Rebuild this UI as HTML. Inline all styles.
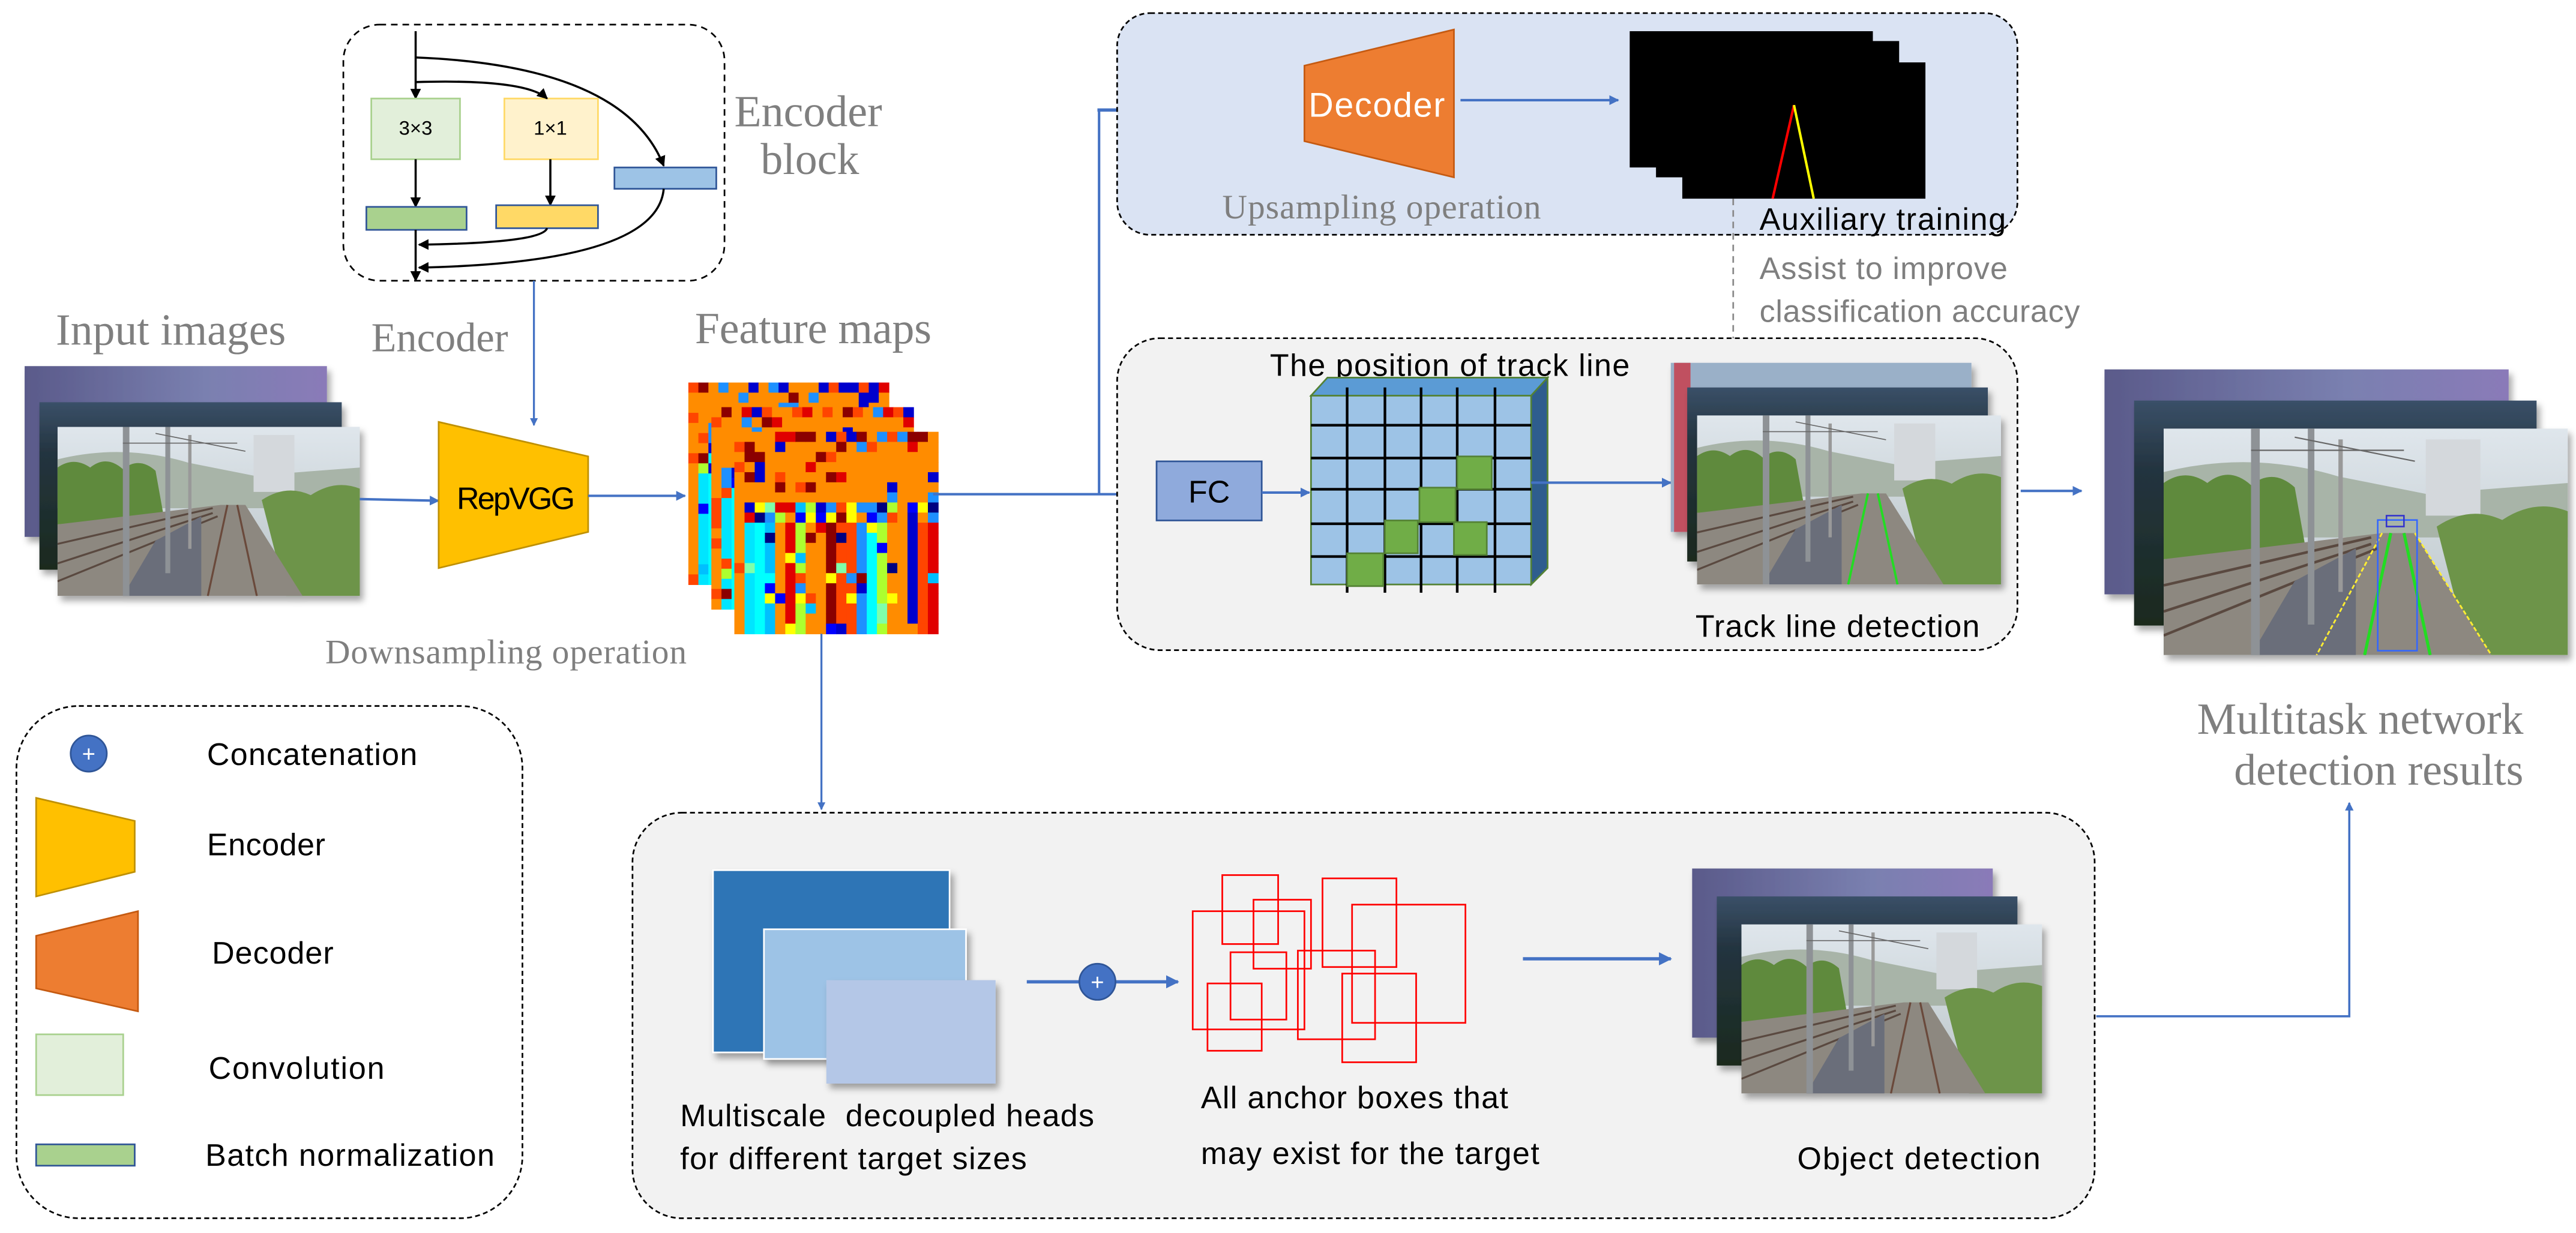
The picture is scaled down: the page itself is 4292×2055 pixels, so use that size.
<!DOCTYPE html>
<html><head><meta charset="utf-8"><style>
html,body{margin:0;padding:0;background:#fff;}
svg{display:block;}
.serif{font-family:"Liberation Serif",serif;fill:#7f7f7f;}
.sans{font-family:"Liberation Sans",sans-serif;fill:#000;}
</style></head><body>
<svg width="4292" height="2055" viewBox="0 0 1568 751" preserveAspectRatio="none" xmlns="http://www.w3.org/2000/svg">
<defs>
<marker id="ab" viewBox="0 0 10 10" refX="9" refY="5" markerWidth="4" markerHeight="4" orient="auto"><path d="M0,0L10,5L0,10z" fill="#4472c4"/></marker>
<marker id="ak" viewBox="0 0 10 10" refX="9" refY="5" markerWidth="5" markerHeight="5" orient="auto"><path d="M0,0L10,5L0,10z" fill="#000"/></marker>
<marker id="ag" viewBox="0 0 10 10" refX="9" refY="5" markerWidth="5" markerHeight="5" orient="auto"><path d="M0,0L10,5L0,10z" fill="#777"/></marker>
<linearGradient id="sky" x1="0" y1="0" x2="0" y2="1"><stop offset="0" stop-color="#dfe6ec"/><stop offset="1" stop-color="#b9c3c6"/></linearGradient>
<linearGradient id="purp" x1="0" y1="0" x2="1" y2="0"><stop offset="0" stop-color="#5a5a8a"/><stop offset="0.6" stop-color="#7a80b0"/><stop offset="1" stop-color="#8a7ab8"/></linearGradient>
<linearGradient id="dark" x1="0" y1="0" x2="0" y2="1"><stop offset="0" stop-color="#3a5068"/><stop offset="0.3" stop-color="#243440"/><stop offset="1" stop-color="#1a2a1e"/></linearGradient>
<filter id="sh" x="-10%" y="-10%" width="130%" height="130%"><feDropShadow dx="2" dy="3" stdDeviation="2" flood-opacity="0.35"/></filter>
<symbol id="photo" viewBox="0 0 185 104" preserveAspectRatio="none">
<rect width="185" height="104" fill="url(#sky)"/>
<path d="M0,20 Q40,10 80,22 L120,30 L185,25 L185,50 L0,50z" fill="#a8b4a8"/>
<rect x="120" y="5" width="25" height="35" fill="#d4d8dc"/>
<path d="M0,25 Q10,18 20,25 Q30,17 40,26 Q50,18 60,27 L65,55 L0,60z" fill="#5f8a3c"/>
<path d="M125,45 Q140,35 155,42 Q170,32 185,38 L185,104 L140,104z" fill="#6d9448"/>
<path d="M0,60 L100,48 L115,48 L150,104 L0,104z" fill="#8d8880"/>
<path d="M0,72 L95,50 M0,84 L95,53 M0,95 L98,55" stroke="#5a4a40" stroke-width="1.2"/>
<path d="M104,48 L92,104 M110,48 L122,104" stroke="#6a4a3a" stroke-width="1.2"/>
<path d="M40,104 L60,70 L88,55 L88,104z" fill="#6a6e7a"/>
<rect x="40" y="0" width="4" height="104" fill="#8e9296"/>
<rect x="66" y="0" width="3" height="90" fill="#8e9296"/>
<rect x="80" y="5" width="2" height="70" fill="#999"/>
<path d="M40,10 L110,10 M60,4 L115,15" stroke="#666" stroke-width="0.6"/>
</symbol>
<symbol id="photoL" viewBox="0 0 185 104" preserveAspectRatio="none">
<use href="#photo" width="185" height="104"/>
<path d="M104,48 L92,104 M110,48 L122,104" stroke="#22dd22" stroke-width="1.4"/>
</symbol>
<symbol id="photoR" viewBox="0 0 185 104" preserveAspectRatio="none">
<use href="#photo" width="185" height="104"/>
<path d="M104,48 L92,104 M110,48 L122,104" stroke="#22dd22" stroke-width="1.4"/>
<path d="M100,48 L70,104 M115,48 L150,104" stroke="#ffee33" stroke-width="0.8" stroke-dasharray="2,1"/>
<rect x="98" y="42" width="18" height="60" fill="none" stroke="#3366ff" stroke-width="0.7"/>
<rect x="102" y="40" width="8" height="5" fill="none" stroke="#3333cc" stroke-width="0.7"/>
</symbol>
</defs>

<!-- Encoder block -->
<rect x="209" y="15" width="232" height="156" rx="22" fill="none" stroke="#000" stroke-width="1" stroke-dasharray="4,3"/>
<text class="serif" x="447" y="77" font-size="27">Encoder</text>
<text class="serif" x="463" y="106" font-size="27">block</text>
<line x1="253" y1="19" x2="253" y2="60" stroke="#000" stroke-width="1.3" marker-end="url(#ak)"/>
<rect x="226" y="60" width="54" height="37" fill="#e2efda" stroke="#a9d18e" stroke-width="1"/>
<text class="sans" x="253" y="82" font-size="12" text-anchor="middle">3×3</text>
<rect x="307" y="60" width="57" height="37" fill="#fff2cc" stroke="#ffd966" stroke-width="1"/>
<text class="sans" x="335" y="82" font-size="12" text-anchor="middle">1×1</text>
<rect x="374" y="102" width="62" height="13" fill="#9dc3e6" stroke="#2f5597" stroke-width="1"/>
<path d="M253,35 Q380,40 404,101" fill="none" stroke="#000" stroke-width="1.3" marker-end="url(#ak)"/>
<path d="M253,50 Q320,48 333,60" fill="none" stroke="#000" stroke-width="1.3" marker-end="url(#ak)"/>
<line x1="253" y1="97" x2="253" y2="126" stroke="#000" stroke-width="1.3" marker-end="url(#ak)"/>
<line x1="335" y1="97" x2="335" y2="125" stroke="#000" stroke-width="1.3" marker-end="url(#ak)"/>
<rect x="223" y="126" width="61" height="14" fill="#a9d18e" stroke="#2f5597" stroke-width="1"/>
<rect x="302" y="125" width="62" height="14" fill="#ffd966" stroke="#2f5597" stroke-width="1"/>
<line x1="253" y1="140" x2="253" y2="171" stroke="#000" stroke-width="1.3" marker-end="url(#ak)"/>
<path d="M333,139 Q330,148 255,149" fill="none" stroke="#000" stroke-width="1.3" marker-end="url(#ak)"/>
<path d="M404,115 Q400,160 255,163" fill="none" stroke="#000" stroke-width="1.3" marker-end="url(#ak)"/>
<line x1="325" y1="171" x2="325" y2="259" stroke="#4472c4" stroke-width="1.2" marker-end="url(#ab)"/>

<!-- Input -->
<text class="serif" x="34" y="210" font-size="27" textLength="140">Input images</text>
<text class="serif" x="226" y="214" font-size="25">Encoder</text>
<text class="serif" x="423" y="209" font-size="27" textLength="144">Feature maps</text>
<rect x="15" y="223" width="184" height="104" fill="url(#purp)" filter="url(#sh)"/>
<rect x="24" y="245" width="184" height="102" fill="url(#dark)" filter="url(#sh)"/>
<use href="#photo" x="35" y="260" width="184" height="103" filter="url(#sh)"/>
<line x1="219" y1="304" x2="267" y2="305" stroke="#4472c4" stroke-width="1.5" marker-end="url(#ab)"/>
<path d="M267,257 L358,278 L358,324 L267,346z" fill="#ffc000" stroke="#bf9000" stroke-width="1"/>
<text class="sans" x="314" y="310" font-size="19" text-anchor="middle" textLength="72">RepVGG</text>
<line x1="358" y1="302" x2="417" y2="302" stroke="#4472c4" stroke-width="1.5" marker-end="url(#ab)"/>
<text class="serif" x="198" y="404" font-size="21" textLength="220">Downsampling operation</text>

<!-- Feature maps -->
<g id="fm1"></g><g id="fm2"></g><g id="fm3"></g>

<!-- connectors -->
<line x1="568" y1="301" x2="703" y2="301" stroke="#4472c4" stroke-width="1.5"/>
<line x1="669" y1="301" x2="669" y2="67" stroke="#4472c4" stroke-width="1.5"/>
<line x1="668" y1="67" x2="793" y2="67" stroke="#4472c4" stroke-width="2" marker-end="url(#ab)"/>
<line x1="500" y1="386" x2="500" y2="493" stroke="#4472c4" stroke-width="1.2" marker-end="url(#ab)"/>

<!-- Upper blue box -->
<rect x="680" y="8" width="548" height="135" rx="20" fill="#dae3f3" stroke="#000" stroke-width="1" stroke-dasharray="3,2"/>
<path d="M794,40 L885,18 L885,108 L794,86z" fill="#ed7d31" stroke="#c55a11" stroke-width="1"/>
<text x="838" y="71" font-size="21" text-anchor="middle" font-family="Liberation Sans,sans-serif" fill="#fff" textLength="83">Decoder</text>
<line x1="889" y1="61" x2="985" y2="61" stroke="#4472c4" stroke-width="1.5" marker-end="url(#ab)"/>
<rect x="992" y="19" width="148" height="83" fill="#000"/>
<rect x="1008" y="25" width="148" height="83" fill="#000"/>
<rect x="1024" y="38" width="148" height="83" fill="#000"/>
<line x1="1092" y1="64" x2="1079" y2="121" stroke="#f00" stroke-width="1.5"/>
<line x1="1092" y1="64" x2="1104" y2="121" stroke="#ff0" stroke-width="1.5"/>
<text class="serif" x="744" y="133" font-size="21" textLength="194">Upsampling operation</text>
<text class="sans" x="1071" y="140" font-size="19" textLength="150">Auxiliary training</text>
<line x1="1055" y1="121" x2="1055" y2="220" stroke="#888" stroke-width="1" stroke-dasharray="4,3" marker-end="url(#ag)"/>
<text x="1071" y="170" font-size="19" font-family="Liberation Sans,sans-serif" fill="#7f7f7f" textLength="151">Assist to improve</text>
<text x="1071" y="196" font-size="19" font-family="Liberation Sans,sans-serif" fill="#7f7f7f" textLength="195">classification accuracy</text>

<!-- Lower gray box -->
<rect x="680" y="206" width="548" height="190" rx="26" fill="#f2f2f2" stroke="#000" stroke-width="1" stroke-dasharray="3,2"/>
<text class="sans" x="773" y="229" font-size="19" textLength="219">The position of track line</text>
<rect x="704" y="281" width="64" height="36" fill="#8faadc" stroke="#2f5597" stroke-width="1"/>
<text class="sans" x="736" y="306" font-size="19" text-anchor="middle">FC</text>
<line x1="768" y1="300" x2="797" y2="300" stroke="#4472c4" stroke-width="1.5" marker-end="url(#ab)"/>
<path d="M798,241 L808,230 L942,230 L932,241z" fill="#5b9bd5" stroke="#548235" stroke-width="1"/>
<path d="M932,241 L942,230 L942,346 L932,356z" fill="#2e5d8e" stroke="#548235" stroke-width="1"/>
<rect x="798" y="241" width="134" height="115" fill="#9dc3e6" stroke="#548235" stroke-width="1"/>
<g stroke="#000" stroke-width="1.6">
<line x1="798" y1="259" x2="932" y2="259"/><line x1="798" y1="279" x2="932" y2="279"/><line x1="798" y1="298" x2="932" y2="298"/><line x1="798" y1="319" x2="932" y2="319"/><line x1="798" y1="339" x2="932" y2="339"/>
<line x1="820" y1="236" x2="820" y2="361"/><line x1="843" y1="236" x2="843" y2="361"/><line x1="865" y1="236" x2="865" y2="361"/><line x1="887" y1="236" x2="887" y2="361"/><line x1="910" y1="236" x2="910" y2="361"/>
</g>
<g fill="#70ad47" stroke="#548235" stroke-width="1">
<rect x="887" y="278" width="21" height="20"/><rect x="864" y="297" width="22" height="21"/><rect x="843" y="317" width="20" height="20"/><rect x="885" y="318" width="20" height="20"/><rect x="820" y="337" width="22" height="20"/>
</g>
<line x1="932" y1="294" x2="1017" y2="294" stroke="#4472c4" stroke-width="1.5" marker-end="url(#ab)"/>
<rect x="1017" y="221" width="183" height="103" fill="#9ab0c8" filter="url(#sh)"/>
<rect x="1019" y="221" width="10" height="103" fill="#c05060"/>
<rect x="1027" y="236" width="183" height="106" fill="url(#dark)" filter="url(#sh)"/>
<use href="#photoL" x="1033" y="253" width="185" height="103" filter="url(#sh)"/>
<text class="sans" x="1032" y="388" font-size="19" textLength="173">Track line detection</text>
<line x1="1230" y1="299" x2="1267" y2="299" stroke="#4472c4" stroke-width="1.5" marker-end="url(#ab)"/>

<!-- Results -->
<rect x="1281" y="225" width="246" height="137" fill="url(#purp)" filter="url(#sh)"/>
<rect x="1299" y="244" width="245" height="137" fill="url(#dark)" filter="url(#sh)"/>
<use href="#photoR" x="1317" y="261" width="246" height="138" filter="url(#sh)"/>
<text class="serif" x="1536" y="447" font-size="27" text-anchor="end">Multitask network</text>
<text class="serif" x="1536" y="478" font-size="27" text-anchor="end">detection results</text>
<polyline points="1276,619 1430,619 1430,489" fill="none" stroke="#4472c4" stroke-width="1.3" marker-end="url(#ab)"/>

<!-- Legend -->
<rect x="10" y="430" width="308" height="312" rx="38" fill="none" stroke="#000" stroke-width="1" stroke-dasharray="3,2"/>
<circle cx="54" cy="459" r="11" fill="#4472c4" stroke="#2f5597"/>
<text x="54" y="464" font-size="14" text-anchor="middle" fill="#fff" font-family="Liberation Sans,sans-serif">+</text>
<text class="sans" x="126" y="466" font-size="19" textLength="128">Concatenation</text>
<path d="M22,486 L82,500 L82,531 L22,546z" fill="#ffc000" stroke="#bf9000"/>
<text class="sans" x="126" y="521" font-size="19" textLength="72">Encoder</text>
<path d="M22,570 L84,555 L84,616 L22,602z" fill="#ed7d31" stroke="#c55a11"/>
<text class="sans" x="129" y="587" font-size="19" textLength="74">Decoder</text>
<rect x="22" y="630" width="53" height="37" fill="#e2efda" stroke="#a9d18e"/>
<text class="sans" x="127" y="657" font-size="19" textLength="107">Convolution</text>
<rect x="22" y="697" width="60" height="13" fill="#a9d18e" stroke="#2f5597"/>
<text class="sans" x="125" y="710" font-size="19" textLength="176">Batch normalization</text>

<!-- Bottom box -->
<rect x="385" y="495" width="890" height="247" rx="30" fill="#f2f2f2" stroke="#000" stroke-width="1" stroke-dasharray="3,2"/>
<rect x="434" y="530" width="144" height="111" fill="#2e75b6" stroke="#fff" stroke-width="1" filter="url(#sh)"/>
<rect x="465" y="566" width="123" height="79" fill="#9dc3e6" stroke="#fff" stroke-width="1" filter="url(#sh)"/>
<rect x="503" y="597" width="103" height="63" fill="#b4c7e7" filter="url(#sh)"/>
<line x1="625" y1="598" x2="717" y2="598" stroke="#4472c4" stroke-width="2" marker-end="url(#ab)"/>
<circle cx="668" cy="598" r="11" fill="#4472c4" stroke="#2f5597"/>
<text x="668" y="603" font-size="14" text-anchor="middle" fill="#fff" font-family="Liberation Sans,sans-serif">+</text>
<g fill="none" stroke="#f00" stroke-width="1">
<rect x="744" y="533" width="34" height="42"/><rect x="763" y="548" width="35" height="42"/><rect x="726" y="555" width="68" height="72"/><rect x="805" y="535" width="45" height="54"/><rect x="823" y="551" width="69" height="72"/><rect x="749" y="580" width="34" height="41"/><rect x="790" y="579" width="47" height="54"/><rect x="735" y="599" width="33" height="41"/><rect x="817" y="593" width="45" height="54"/>
</g>
<line x1="927" y1="584" x2="1017" y2="584" stroke="#4472c4" stroke-width="2" marker-end="url(#ab)"/>
<rect x="1030" y="529" width="183" height="103" fill="url(#purp)" filter="url(#sh)"/>
<rect x="1045" y="546" width="183" height="103" fill="url(#dark)" filter="url(#sh)"/>
<use href="#photo" x="1060" y="563" width="183" height="103" filter="url(#sh)"/>
<text class="sans" x="414" y="686" font-size="19" textLength="252" xml:space="preserve">Multiscale  decoupled heads</text>
<text class="sans" x="414" y="712" font-size="19" textLength="211">for different target sizes</text>
<text class="sans" x="731" y="675" font-size="19" textLength="187">All anchor boxes that</text>
<text class="sans" x="731" y="709" font-size="19" textLength="206">may exist for the target</text>
<text class="sans" x="1094" y="712" font-size="19" textLength="148">Object detection</text>
</svg>
<script>
(function(){
var NS="http://www.w3.org/2000/svg";
var seed=7;function r(){seed=(seed*16807)%2147483647;return seed/2147483647;}
var top=["#ff8c00","#ff8c00","#ff8c00","#ff4500","#e00000","#8b0000","#0000cd","#1e90ff"];
var bot=["#0000cd","#0000ff","#00bfff","#00ffff","#adff2f","#ffff00","#e00000","#8b0000","#ff4500","#ff8c00","#1e90ff","#7fffaa","#000080"];
var colsBot=[];for(var c=0;c<20;c++)colsBot.push(bot[Math.floor(r()*bot.length)]);
colsBot[0]="#ff8c00";colsBot[1]="#00e5ff";
function draw(id,x,y,w,h){
 var g=document.getElementById(id);var cw=w/20,ch=h/20;
 for(var i=0;i<20;i++)for(var j=0;j<20;j++){
  var col;
  if(j<1) col=top[Math.floor(r()*top.length)];
  else if(j<7) col=(r()<0.7)?"#ff8c00":top[Math.floor(r()*top.length)];
  else if(j<9) col=bot[Math.floor(r()*bot.length)];
  else col=(r()<0.85)?colsBot[i]:bot[Math.floor(r()*bot.length)];
  if(i==0) col=(r()<0.8)?"#ff8c00":"#ff4500";
  var e=document.createElementNS(NS,"rect");
  e.setAttribute("x",x+i*cw);e.setAttribute("y",y+j*ch);
  e.setAttribute("width",cw+0.3);e.setAttribute("height",ch+0.3);e.setAttribute("fill",col);
  g.appendChild(e);
 }
}
draw("fm1",419,233,122,123);draw("fm2",433,248,123,123);draw("fm3",447,263,124,123);
})();
</script>
</body></html>
